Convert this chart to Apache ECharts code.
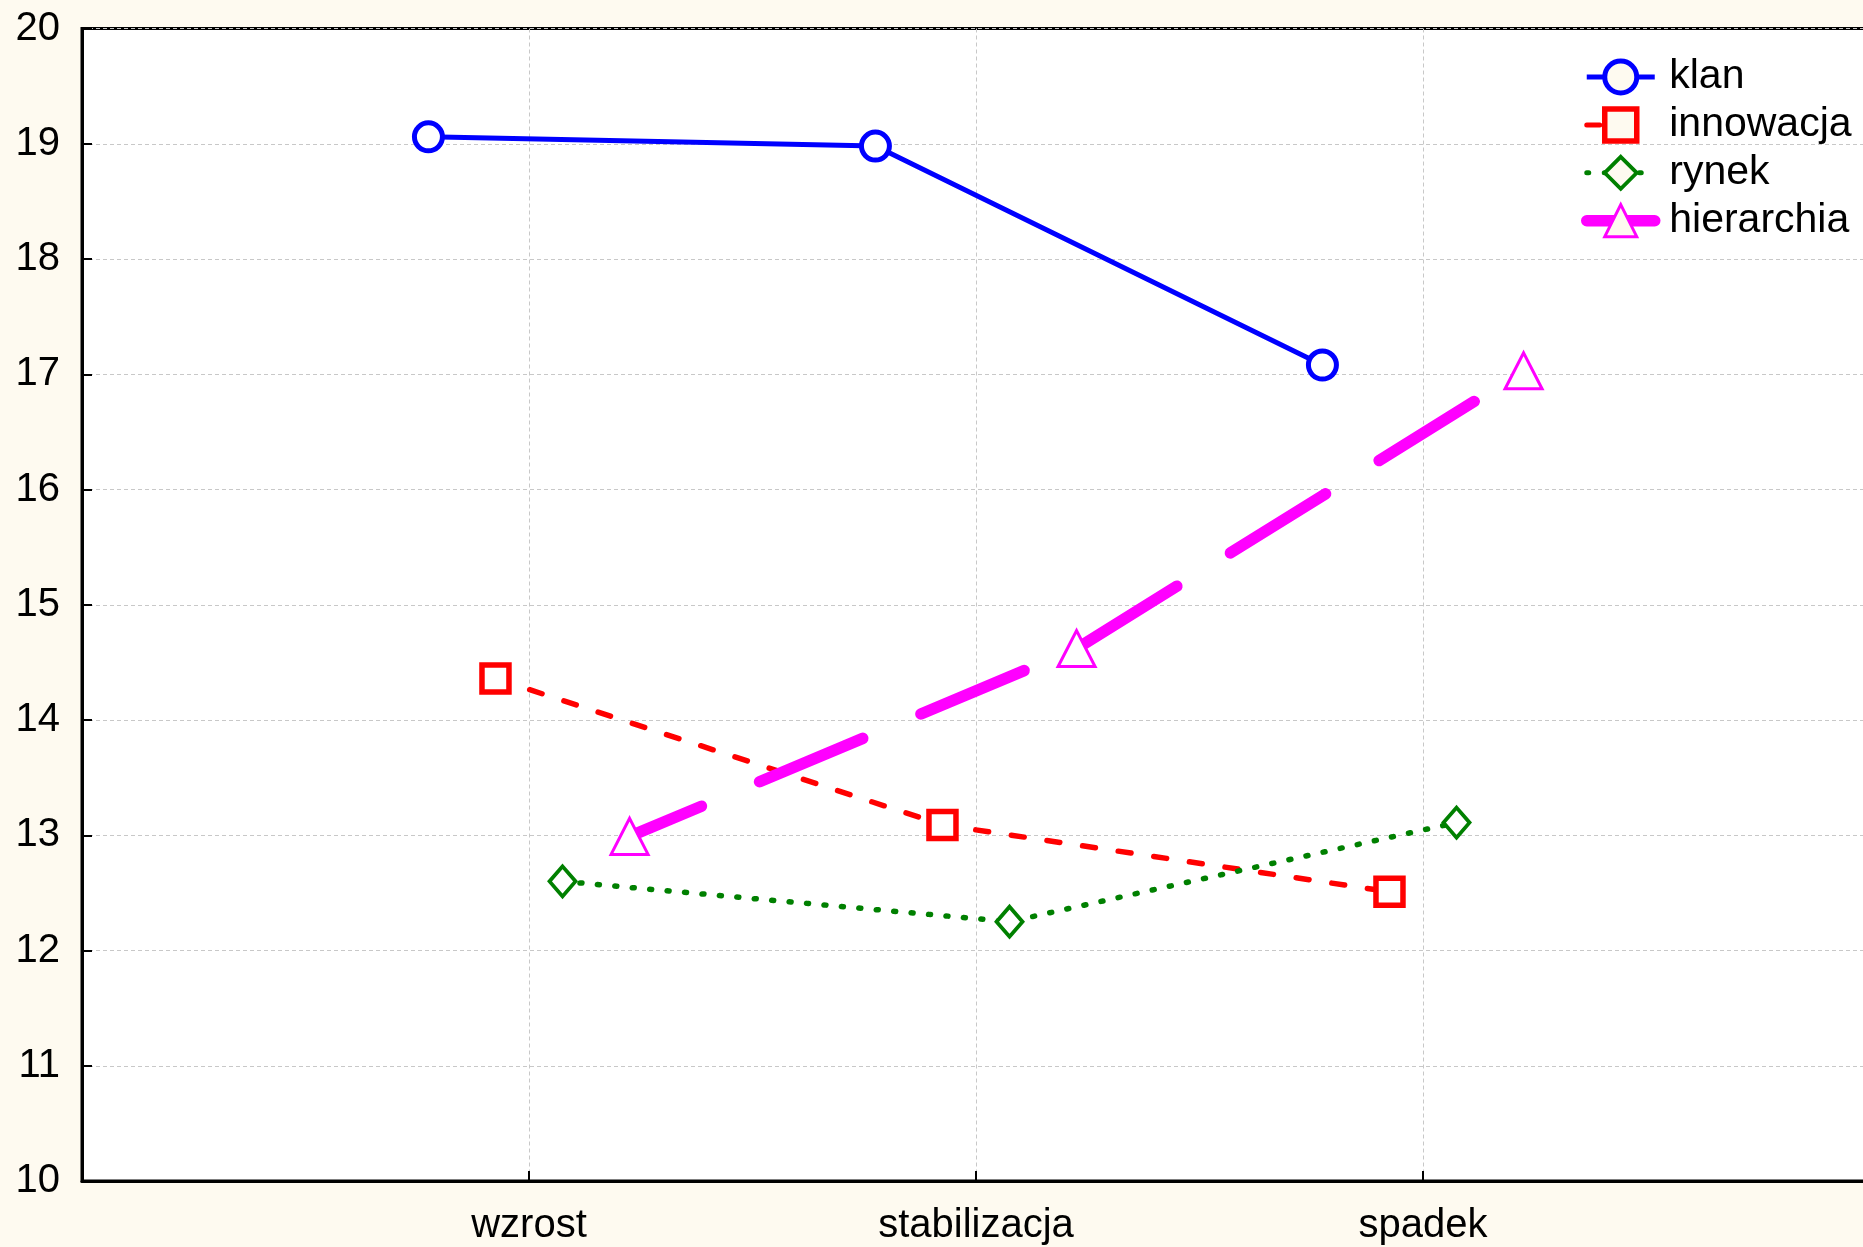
<!DOCTYPE html>
<html>
<head>
<meta charset="utf-8">
<script src="https://cdn.jsdelivr.net/npm/echarts@6/dist/echarts.min.js"></script>
<style>
html,body{margin:0;padding:0;background:#fefaf0;overflow:hidden;}
#c{width:1863px;height:1247px;}
</style>
</head>
<body>
<div id="c"></div>
<script>
const categories = ['wzrost', 'stabilizacja', 'spadek'];
const seriesNames = ['klan', 'innowacja', 'rynek', 'hierarchia'];
const klan = [19.06, 18.98, 17.08];
const innowacja = [14.36, 13.09, 12.51];
const rynek = [12.60, 12.25, 13.11];
const hierarchia = [12.99, 14.62, 17.03];
const yTicks = [10, 11, 12, 13, 14, 15, 16, 17, 18, 19, 20];

// horizontal offset of each series around its category position
const offsets = [-0.225, -0.075, 0.075, 0.225];

function pts(values, k) {
  return values.map((v, i) => [i + 1 + offsets[k], v]);
}

const FONT = 'Liberation Sans, Arial, sans-serif';
const BG = '#fefaf0';
const colors = { klan: '#0000ff', innowacja: '#ff0000', rynek: '#008000', hierarchia: '#ff00ff' };

const lineStyles = {
  klan: { color: colors.klan, width: 5 },
  innowacja: { color: colors.innowacja, width: 5.5, type: [13, 23], cap: 'round' },
  rynek: { color: colors.rynek, width: 5.5, type: [2, 15.5], cap: 'round' },
  hierarchia: { color: colors.hierarchia, width: 11.5, type: [112, 63], dashOffset: 34, cap: 'round' }
};
const markerStyles = {
  klan: { symbol: 'circle', size: 28, border: 5 },
  innowacja: { symbol: 'rect', size: 27, border: 5.5 },
  rynek: { symbol: 'diamond', size: [26, 30], border: 3.8 },
  hierarchia: { symbol: 'triangle', size: [37, 36], border: 3 }
};

const chart = echarts.init(document.getElementById('c'));

chart.setOption({
  backgroundColor: BG,
  animation: false,
  grid: {
    left: 82, top: 28.5, width: 1788, height: 1152.5,
    outerBoundsMode: 'none', containLabel: false,
    show: true, backgroundColor: '#ffffff', borderColor: '#000', borderWidth: 3
  },
  legend: {
    orient: 'vertical',
    left: 1581, top: 56.5, padding: 0,
    itemWidth: 68, itemHeight: 40, itemGap: 6.9,
    textStyle: { fontFamily: FONT, fontSize: 41, color: '#000', lineHeight: 40, padding: [0, 0, 0, 9.5] },
    data: seriesNames.map(n => ({
      name: n,
      lineStyle: Object.assign({}, lineStyles[n], { width: n === 'hierarchia' ? 11.5 : 5 }),
      itemStyle: { color: BG, borderColor: colors[n], borderWidth: markerStyles[n].border }
    }))
  },
  xAxis: {
    type: 'value', min: 0, max: 4, interval: 1,
    axisLine: { show: true, lineStyle: { color: '#000', width: 3 } },
    axisTick: { show: true, inside: true, length: 10, lineStyle: { color: '#000', width: 2 } },
    axisLabel: {
      fontFamily: FONT, fontSize: 40, color: '#000', margin: 25,
      formatter: v => (v >= 1 && v <= categories.length ? categories[v - 1] : '')
    },
    splitLine: { show: true, lineStyle: { color: '#c8c8c8', width: 1, type: [4, 3] } }
  },
  yAxis: {
    type: 'value', min: yTicks[0], max: yTicks[yTicks.length - 1], interval: 1,
    axisLine: { show: true, lineStyle: { color: '#000', width: 3 } },
    axisTick: { show: true, inside: true, length: 10, lineStyle: { color: '#000', width: 2 } },
    axisLabel: { fontFamily: FONT, fontSize: 40, color: '#000', margin: 22 },
    splitLine: { show: true, lineStyle: { color: '#c8c8c8', width: 1, type: [4, 3] } }
  },
  series: [
    { name: 'klan', data: pts(klan, 0), z: 2 },
    { name: 'innowacja', data: pts(innowacja, 1), z: 3 },
    { name: 'rynek', data: pts(rynek, 2), z: 4 },
    { name: 'hierarchia', data: pts(hierarchia, 3), z: 5 }
  ].map(s => Object.assign({
    type: 'line',
    symbol: markerStyles[s.name].symbol,
    symbolSize: markerStyles[s.name].size,
    lineStyle: lineStyles[s.name],
    itemStyle: { color: '#ffffff', borderColor: colors[s.name], borderWidth: markerStyles[s.name].border }
  }, s))
});
</script>
</body>
</html>
